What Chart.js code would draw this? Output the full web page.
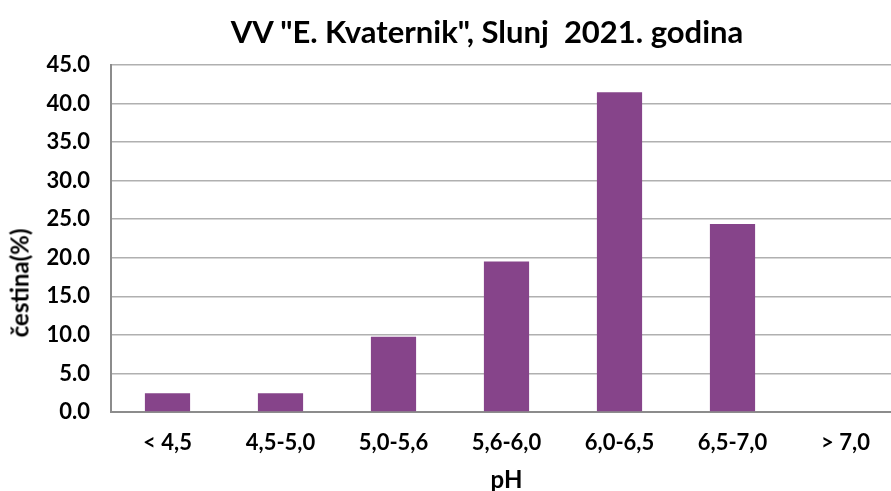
<!DOCTYPE html>
<html>
<head>
<meta charset="utf-8">
<script src="https://cdn.jsdelivr.net/npm/chart.js@4.4.1/dist/chart.umd.min.js"></script>
<style>
    html, body { margin: 0; padding: 0; background: #fff; overflow: hidden; width: 891px; height: 491px; }
    #wrap { position: relative; width: 891px; height: 491px; overflow: hidden; }
    #chartTitle {
        position: absolute; left: 0; top: 12px; width: 974px; text-align: center;
        font: bold 31px Lato, sans-serif; color: #000; white-space: pre;
    }
    #yTitle {
        position: absolute; left: 19px; top: 283px; transform: translate(-50%, -50%) rotate(-90deg);
        font: bold 24px Lato, sans-serif; color: #000; white-space: nowrap;
    }
    canvas { position: absolute; left: 0; top: 0; }
</style>
</head>
<body>
<div id="wrap">
    <canvas id="phChart" width="902" height="491"></canvas>
    <div id="chartTitle">VV "E. Kvaternik", Slunj  2021. godina</div>
    <div id="yTitle">čestina(%)</div>
</div>
<script>
const phClasses = ['< 4,5', '4,5-5,0', '5,0-5,6', '5,6-6,0', '6,0-6,5', '6,5-7,0', '> 7,0'];
const shares = [2.44, 2.44, 9.76, 19.51, 41.46, 24.39, 0];
const yTicks = [0, 5, 10, 15, 20, 25, 30, 35, 40, 45];

const ctx = document.getElementById('phChart').getContext('2d');
const phChart = new Chart(ctx, {
    type: 'bar',
    data: {
        labels: phClasses,
        datasets: [{
            label: 'čestina(%)',
            data: shares,
            backgroundColor: '#86448A',
            categoryPercentage: 1,
            barPercentage: 0.4
        }]
    },
    options: {
        responsive: false,
        animation: false,
        layout: {
            padding: { top: 65, left: 0, right: 0, bottom: 0 }
        },
        plugins: {
            legend: { display: false },
            tooltip: { enabled: false }
        },
        scales: {
            x: {
                afterFit: (scale) => { scale.height = 79; },
                grid: { display: false, drawTicks: false },
                border: { color: '#8c8c8c', width: 2 },
                ticks: {
                    color: '#000',
                    padding: 18,
                    font: { family: 'Lato', weight: 'bold', size: 22 }
                },
                title: {
                    display: true,
                    text: 'pH',
                    color: '#000',
                    padding: { top: 0, bottom: -4 },
                    font: { family: 'Lato', weight: 'bold', size: 24 }
                }
            },
            y: {
                min: 0,
                max: 45,
                afterFit: (scale) => { scale.width = 111; },
                afterBuildTicks: (scale) => {
                    scale.ticks = yTicks.map(v => ({ value: v }));
                },
                grid: { color: '#b0b0b0', lineWidth: 1.5, drawTicks: false },
                border: { color: '#8c8c8c', width: 2 },
                ticks: {
                    color: '#000',
                    padding: 21,
                    font: { family: 'Lato', weight: 'bold', size: 22 },
                    callback: (value) => Number(value).toFixed(1)
                }
            }
        }
    }
});
</script>
</body>
</html>
